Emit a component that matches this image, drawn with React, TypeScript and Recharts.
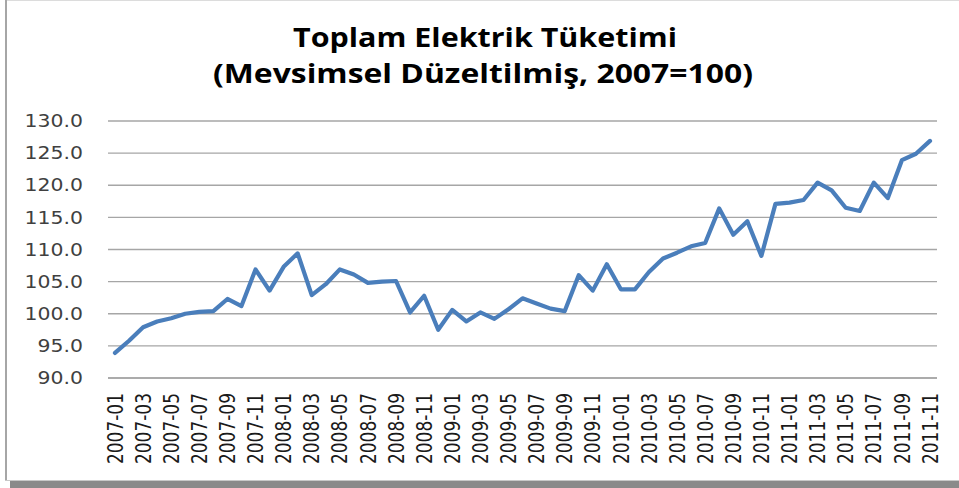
import React from "react";
import { LineChart, Line, XAxis, YAxis, CartesianGrid } from "recharts";

const months2007 = ["2007-01","2007-02","2007-03","2007-04","2007-05","2007-06","2007-07","2007-08","2007-09","2007-10","2007-11","2007-12"];
const months2008 = ["2008-01","2008-02","2008-03","2008-04","2008-05","2008-06","2008-07","2008-08","2008-09","2008-10","2008-11","2008-12"];
const months2009 = ["2009-01","2009-02","2009-03","2009-04","2009-05","2009-06","2009-07","2009-08","2009-09","2009-10","2009-11","2009-12"];
const months2010 = ["2010-01","2010-02","2010-03","2010-04","2010-05","2010-06","2010-07","2010-08","2010-09","2010-10","2010-11","2010-12"];
const months2011 = ["2011-01","2011-02","2011-03","2011-04","2011-05","2011-06","2011-07","2011-08","2011-09","2011-10","2011-11"];

const values2007 = [93.9, 95.8, 97.9, 98.8, 99.3, 100.0, 100.3, 100.4, 102.3, 101.2, 106.9, 103.6];
const values2008 = [107.3, 109.4, 102.9, 104.6, 106.9, 106.1, 104.8, 105.0, 105.1, 100.2, 102.8, 97.5];
const values2009 = [100.6, 98.8, 100.2, 99.2, 100.7, 102.4, 101.6, 100.8, 100.4, 106.0, 103.6, 107.7];
const values2010 = [103.8, 103.8, 106.5, 108.6, 109.5, 110.5, 111.0, 116.4, 112.3, 114.4, 109.0, 117.1];
const values2011 = [117.3, 117.7, 120.4, 119.2, 116.5, 116.0, 120.4, 118.0, 123.9, 124.9, 126.9];

const yTicks = [90, 95, 100, 105, 110, 115, 120, 125, 130];

const titleLine1 = "Toplam Elektrik Tüketimi";
const titleLine2 = "(Mevsimsel Düzeltilmiş, 2007=100)";

const months = [...months2007, ...months2008, ...months2009, ...months2010, ...months2011];
const values = [...values2007, ...values2008, ...values2009, ...values2010, ...values2011];
const data = months.map((m, i) => ({ month: m, value: values[i] }));

const XTick = (props: any) => {
  const { x, y, payload } = props;
  return (
    <g transform={`translate(${x},${y})`}>
      <text
        transform="rotate(-90) scale(1,1.25)"
        textAnchor="end"
        dy="0.36em"
        fontFamily="DejaVu Sans"
        fontSize={17}
        fill="#1a1a1a"
      >
        {payload.value}
      </text>
    </g>
  );
};

const YTick = (props: any) => {
  const { x, y, payload } = props;
  return (
    <g transform={`translate(${x},${y}) scale(1.2,1)`}>
      <text textAnchor="end" dy="0.36em" fontFamily="DejaVu Sans" fontSize={17} fill="#404040">
        {Number(payload.value).toFixed(1)}
      </text>
    </g>
  );
};

export default function App() {
  return (
    <div style={{ position: "absolute", left: 0, top: 0, width: 959, height: 488, background: "#fff", overflow: "hidden" }}>
      <div style={{ position: "absolute", left: 5, top: 0, width: 954, height: 1, background: "#dcdcdc" }} />
      <div style={{ position: "absolute", left: 5, top: 0, width: 2, height: 481, background: "#a6a6a6" }} />
      <div style={{ position: "absolute", left: 5, top: 480, width: 954, height: 1, background: "#c8c8c8" }} />
      <div style={{ position: "absolute", left: 10, top: 481, width: 949, height: 7, background: "#8a8a8a" }} />
      <svg width={959} height={100} style={{ position: "absolute", left: 0, top: 0 }}>
        <text x={485} y={47} textAnchor="middle" fontFamily="Open Sans" fontWeight="bold" fontSize={27} fill="#000"
          textLength={384} lengthAdjust="spacingAndGlyphs">{titleLine1}</text>
        <text x={483} y={83} textAnchor="middle" fontFamily="Open Sans" fontWeight="bold" fontSize={27} fill="#000"
          textLength={540} lengthAdjust="spacingAndGlyphs">{titleLine2}</text>
      </svg>
      <div style={{ position: "absolute", left: 0, top: 0 }}>
        <LineChart width={959} height={488} data={data} margin={{ top: 121, right: 22, left: 0, bottom: 10 }}>
          <CartesianGrid horizontal vertical={false} stroke="#a6a6a6" strokeWidth={1.3} />
          <XAxis
            dataKey="month"
            interval={1}
            tick={<XTick />}
            tickLine={false}
            tickSize={0}
            tickMargin={15}
            axisLine={{ stroke: "#a6a6a6", strokeWidth: 1.3 }}
            height={100}
            padding={{ left: 7, right: 7 }}
          />
          <YAxis
            domain={[90, 130]}
            ticks={yTicks}
            tick={<YTick />}
            tickLine={false}
            tickSize={0}
            tickMargin={25}
            axisLine={false}
            width={108}
            interval={0}
          />
          <Line
            type="linear"
            dataKey="value"
            stroke="#4a7ebb"
            strokeWidth={4.2}
            dot={false}
            strokeLinejoin="round"
            strokeLinecap="round"
            isAnimationActive={false}
          />
        </LineChart>
      </div>
    </div>
  );
}
